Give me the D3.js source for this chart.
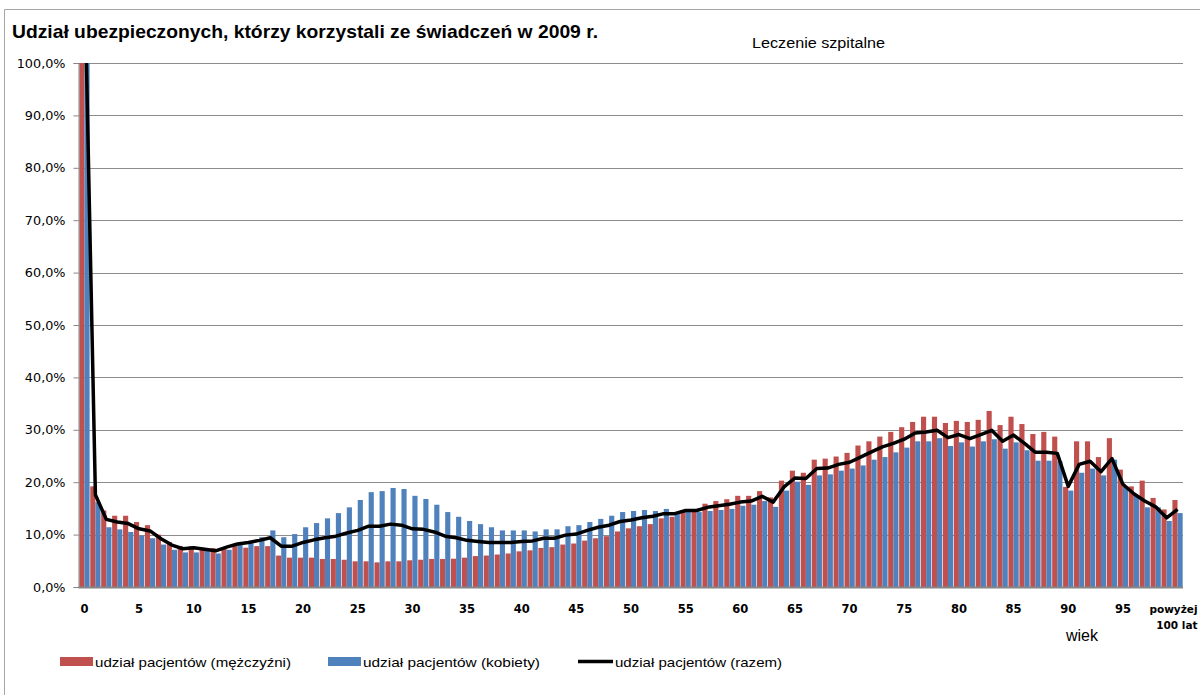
<!DOCTYPE html>
<html>
<head>
<meta charset="utf-8">
<script src="https://cdn.jsdelivr.net/npm/d3@7"></script>
<style>
  html, body { margin: 0; padding: 0; background: #fff; }
  svg { display: block; }
</style>
</head>
<body>
<div id="chart"></div>
<script>
// ages 0..99, last category is "powyżej 100 lat"
const ages = [
  0, 1, 2, 3, 4, 5, 6, 7, 8, 9, 10, 11, 12, 13, 14, 15, 16, 17, 18, 19,
  20, 21, 22, 23, 24, 25, 26, 27, 28, 29, 30, 31, 32, 33, 34, 35, 36, 37, 38, 39,
  40, 41, 42, 43, 44, 45, 46, 47, 48, 49, 50, 51, 52, 53, 54, 55, 56, 57, 58, 59,
  60, 61, 62, 63, 64, 65, 66, 67, 68, 69, 70, 71, 72, 73, 74, 75, 76, 77, 78, 79,
  80, 81, 82, 83, 84, 85, 86, 87, 88, 89, 90, 91, 92, 93, 94, 95, 96, 97, 98, 99, 100
];

const men = [
  120, 19.2, 14.6, 13.6, 13.6, 12.4, 11.8, 10.0, 8.6, 7.8,
  7.8, 7.3, 7.4, 7.6, 7.8, 7.5, 7.8, 7.8, 6.0, 5.6,
  5.6, 5.6, 5.35, 5.35, 5.2, 4.9, 4.9, 4.7, 4.9, 4.9,
  5.1, 5.2, 5.35, 5.35, 5.4, 5.6, 5.9, 6.0, 6.2, 6.4,
  6.8, 7.0, 7.45, 7.6, 8.1, 8.3, 8.85, 9.3, 9.7, 10.6,
  11.2, 11.6, 12.0, 13.1, 13.4, 14.5, 14.6, 15.9, 16.4, 16.75,
  17.4, 17.4, 18.3, 17.1, 20.3, 22.2, 21.8, 24.3, 24.5, 24.9,
  25.6, 27.0, 27.8, 28.7, 29.6, 30.5, 31.5, 32.5, 32.5, 31.3,
  31.7, 31.5, 31.9, 33.6, 30.9, 32.5, 31.1, 29.2, 29.6, 28.7,
  19.1, 27.8, 27.8, 24.8, 28.4, 22.4, 19.2, 20.3, 17.0, 14.8,
  16.6
];

const women = [
  115, 16.2, 11.4, 11.0, 10.5, 9.8, 9.3, 8.1, 7.1, 6.6,
  6.6, 6.9, 6.4, 7.1, 8.0, 8.6, 9.5, 10.8, 9.5, 10.1,
  11.4, 12.2, 13.1, 14.1, 15.2, 16.6, 18.1, 18.3, 18.9, 18.7,
  17.4, 16.8, 15.7, 14.3, 13.4, 12.6, 12.0, 11.4, 10.8, 10.8,
  10.8, 10.6, 11.0, 11.0, 11.6, 11.8, 12.4, 13.0, 13.6, 14.3,
  14.5, 14.7, 14.5, 14.9, 14.3, 14.5, 14.3, 14.5, 14.7, 14.9,
  15.5, 15.7, 16.4, 15.3, 18.4, 20.1, 19.5, 21.3, 21.5, 22.2,
  22.6, 23.2, 24.3, 24.8, 25.7, 26.6, 27.8, 27.8, 28.4, 26.9,
  27.6, 26.8, 27.8, 28.2, 26.4, 27.6, 26.1, 24.1, 24.1, 24.0,
  18.4, 21.8, 22.6, 21.3, 24.3, 19.1, 17.5, 15.2, 15.2, 12.6,
  14.1
];

const total = [
  118, 17.6, 12.9, 12.4, 12.1, 11.1, 10.7, 9.2, 8.0, 7.3,
  7.5, 7.2, 6.9, 7.6, 8.2, 8.5, 8.9, 9.4, 7.8, 7.8,
  8.5, 9.0, 9.4, 9.7, 10.3, 10.8, 11.6, 11.6, 12.0, 11.8,
  11.1, 11.0, 10.5, 9.7, 9.4, 8.9, 8.7, 8.5, 8.5, 8.5,
  8.7, 8.8, 9.3, 9.3, 9.9, 10.1, 10.8, 11.4, 11.8, 12.5,
  12.8, 13.2, 13.5, 14.0, 14.0, 14.6, 14.6, 15.2, 15.5, 15.8,
  16.2, 16.4, 17.3, 16.2, 19.1, 20.8, 20.7, 22.6, 22.7, 23.4,
  23.8, 24.8, 25.8, 26.75, 27.4, 28.2, 29.4, 29.6, 29.9, 28.5,
  29.1, 28.3, 29.1, 29.9, 27.8, 29.0, 27.4, 25.7, 25.7, 25.5,
  19.2, 23.4, 24.0, 22.0, 24.5, 19.6, 17.8, 16.4, 15.3, 13.2,
  14.8
];

const tickAges = [0, 5, 10, 15, 20, 25, 30, 35, 40, 45, 50, 55, 60, 65, 70, 75, 80, 85, 90, 95, 100];
const tickLabels = [['0'], ['5'], ['10'], ['15'], ['20'], ['25'], ['30'], ['35'], ['40'], ['45'], ['50'],
  ['55'], ['60'], ['65'], ['70'], ['75'], ['80'], ['85'], ['90'], ['95'], ['powyżej', '100 lat']];
const yTicks = [0, 10, 20, 30, 40, 50, 60, 70, 80, 90, 100];

const titleText = 'Udział ubezpieczonych, którzy korzystali ze świadczeń w 2009 r.';
const subtitleText = 'Leczenie szpitalne';
const axisTitle = 'wiek';
const seriesNames = ['udział pacjentów (mężczyźni)', 'udział pacjentów (kobiety)', 'udział pacjentów (razem)'];

const colorMen = '#c0504d';
const colorWomen = '#4f81bd';

const W = 1200, H = 695;
const plot = { left: 79, right: 1183, top: 63, bottom: 587 };

const svg = d3.select('#chart').append('svg')
  .attr('width', W)
  .attr('height', H);

// chart frame
svg.append('path')
  .attr('d', `M4.5,${H + 5}V9.5H${W + 5}`)
  .attr('fill', 'none')
  .attr('stroke', '#a6a6a6')
  .attr('stroke-width', 1);

svg.append('text')
  .attr('x', 12)
  .attr('y', 38)
  .attr('font-family', '"Liberation Sans Narrow", "Liberation Sans", Arial, sans-serif')
  .attr('font-weight', 'bold')
  .attr('font-size', 18.5)
  .attr('textLength', 586)
  .attr('lengthAdjust', 'spacingAndGlyphs')
  .text(titleText);

svg.append('text')
  .attr('x', 752)
  .attr('y', 48)
  .attr('font-family', '"Liberation Sans", Arial, sans-serif')
  .attr('font-size', 14)
  .attr('textLength', 133)
  .attr('lengthAdjust', 'spacingAndGlyphs')
  .text(subtitleText);

const x = d3.scaleBand()
  .domain(ages)
  .range([plot.left, plot.right])
  .paddingInner(0.06)
  .paddingOuter(0.03);

const xs = d3.scaleBand()
  .domain(['m', 'k'])
  .range([0, x.bandwidth()]);

const y = d3.scaleLinear()
  .domain([0, 100])
  .range([plot.bottom, plot.top]);

svg.append('defs').append('clipPath')
  .attr('id', 'plot-clip')
  .append('rect')
  .attr('x', plot.left)
  .attr('y', plot.top)
  .attr('width', plot.right - plot.left)
  .attr('height', plot.bottom - plot.top);

// gridlines
svg.append('g')
  .selectAll('line')
  .data(yTicks.filter(d => d > 0))
  .enter()
  .append('line')
  .attr('x1', plot.left)
  .attr('x2', plot.right)
  .attr('y1', d => Math.round(y(d)) + 0.5)
  .attr('y2', d => Math.round(y(d)) + 0.5)
  .attr('stroke', '#8c8c8c')
  .attr('stroke-width', 1);

const g = svg.append('g').attr('clip-path', 'url(#plot-clip)');

g.append('g')
  .selectAll('rect')
  .data(ages)
  .enter()
  .append('rect')
  .attr('x', (d) => x(d) + xs('m'))
  .attr('y', (d, i) => y(men[i]))
  .attr('width', xs.bandwidth())
  .attr('height', (d, i) => y(0) - y(men[i]))
  .attr('fill', colorMen);

g.append('g')
  .selectAll('rect')
  .data(ages)
  .enter()
  .append('rect')
  .attr('x', (d) => x(d) + xs('k'))
  .attr('y', (d, i) => y(women[i]))
  .attr('width', xs.bandwidth())
  .attr('height', (d, i) => y(0) - y(women[i]))
  .attr('fill', colorWomen);

const line = d3.line()
  .x((d, i) => x(ages[i]) + x.bandwidth() / 2)
  .y((d) => y(d));

g.append('path')
  .datum(total)
  .attr('d', line)
  .attr('fill', 'none')
  .attr('stroke', '#000')
  .attr('stroke-width', 3.5)
  .attr('stroke-linejoin', 'round');

// y axis
const yAxis = svg.append('g')
  .attr('transform', `translate(${plot.left - 0.5},0)`)
  .call(d3.axisLeft(y)
    .tickValues(yTicks)
    .tickSize(5)
    .tickPadding(8)
    .tickFormat((d) => d.toFixed(1).replace('.', ',') + '%'));
yAxis.select('.domain').attr('stroke', '#868686');
yAxis.selectAll('.tick line').attr('stroke', '#868686');
yAxis.selectAll('text')
  .attr('font-family', '"DejaVu Sans", Verdana, sans-serif')
  .attr('font-size', 12.8)
  .attr('fill', '#000');

// x axis
const xAxis = svg.append('g')
  .attr('transform', `translate(0,${plot.bottom + 0.5})`)
  .call(d3.axisBottom(x)
    .tickValues(tickAges)
    .tickSize(0)
    .tickPadding(0)
    .tickFormat(''));
xAxis.select('.domain')
  .attr('d', `M${plot.left - 0.5},0H${plot.right}`)
  .attr('stroke', '#868686')
  .attr('stroke-width', 2);
xAxis.selectAll('.tick text').remove();

const lastAge = tickAges[tickAges.length - 1];
xAxis.selectAll('.tick')
  .append('text')
  .attr('text-anchor', (d) => d === lastAge ? 'end' : 'middle')
  .attr('font-family', '"DejaVu Sans", Verdana, sans-serif')
  .attr('font-weight', 'bold')
  .attr('font-size', (d) => d === lastAge ? 10.5 : 11.5)
  .attr('fill', '#000')
  .each(function (d) {
    // the long last label sits against the right edge of the page
    const dx = d === lastAge ? 20 : 0;
    d3.select(this).selectAll('tspan')
      .data(tickLabels[tickAges.indexOf(d)])
      .enter()
      .append('tspan')
      .attr('x', dx)
      .attr('y', (t, i) => 25.5 + i * 15.5)
      .text((t) => t);
  });

svg.append('text')
  .attr('x', 1066)
  .attr('y', 641)
  .attr('font-family', '"Liberation Sans", Arial, sans-serif')
  .attr('font-size', 16)
  .text(axisTitle);

// legend
const legendX = [60, 328, 578];
const legend = svg.append('g')
  .selectAll('g')
  .data(seriesNames)
  .enter()
  .append('g')
  .attr('transform', (d, i) => `translate(${legendX[i]},0)`);

legend.each(function (d, i) {
  const el = d3.select(this);
  if (i < 2) {
    el.append('rect')
      .attr('x', 0)
      .attr('y', 657)
      .attr('width', 33)
      .attr('height', 9)
      .attr('fill', i === 0 ? colorMen : colorWomen);
  } else {
    el.append('line')
      .attr('x1', 0)
      .attr('x2', 35)
      .attr('y1', 661.5)
      .attr('y2', 661.5)
      .attr('stroke', '#000')
      .attr('stroke-width', 3.5);
  }
  el.append('text')
    .attr('x', i < 2 ? 35 : 37)
    .attr('y', 667)
    .attr('font-family', '"Liberation Sans", Arial, sans-serif')
    .attr('font-size', 13.5)
    .attr('textLength', [196, 177, 167][i])
    .attr('lengthAdjust', 'spacingAndGlyphs')
    .text(d);
});
</script>
</body>
</html>
